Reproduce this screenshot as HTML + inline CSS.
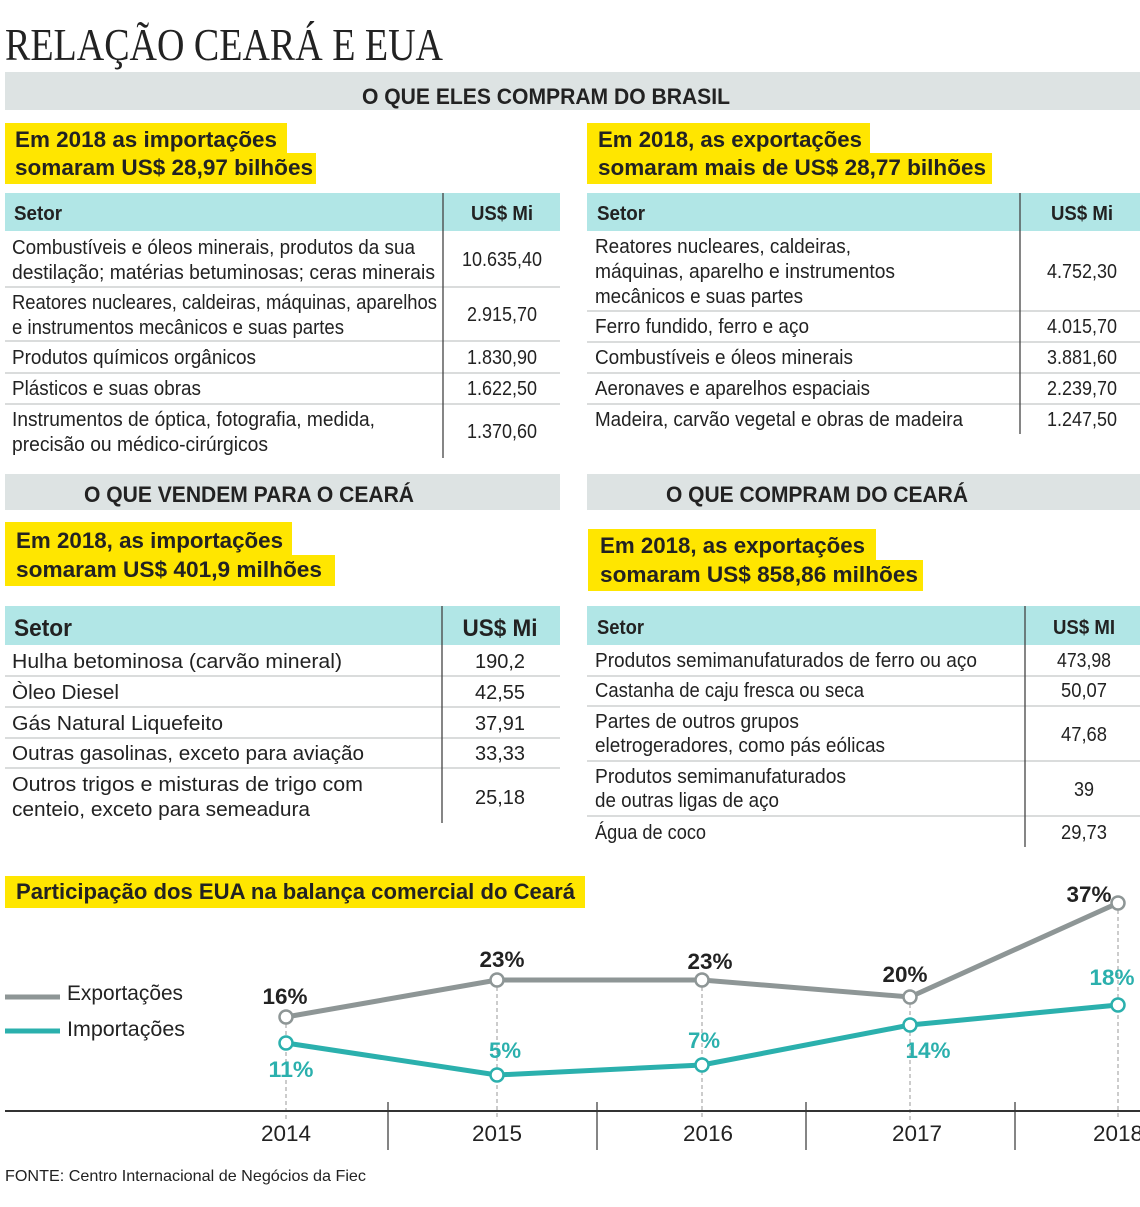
<!DOCTYPE html>
<html><head><meta charset="utf-8"><style>
html,body{margin:0;padding:0;background:#fff}
svg{display:block}
text{font-family:"Liberation Sans",sans-serif;fill:#222}
.b{font-weight:bold}
</style></head><body>
<svg width="1140" height="1207" viewBox="0 0 1140 1207" xmlns="http://www.w3.org/2000/svg" lengthAdjust="spacingAndGlyphs">
<!-- title -->
<text x="5" y="60" font-family="Liberation Serif" style="font-family:'Liberation Serif',serif" font-size="46" textLength="438" lengthAdjust="spacingAndGlyphs" fill="#111">RELAÇÃO CEARÁ E EUA</text>
<!-- top gray bar -->
<rect x="5" y="72" width="1135" height="38" fill="#dde3e3"/>
<text x="546" y="104" text-anchor="middle" class="b" font-size="22" textLength="368" lengthAdjust="spacingAndGlyphs">O QUE ELES COMPRAM DO BRASIL</text>
<!-- yellow 1 -->
<g fill="#ffe600">
<rect x="5" y="123" width="282" height="31"/><rect x="5" y="153" width="311" height="31"/>
<rect x="587" y="123" width="283" height="31"/><rect x="587" y="153" width="405" height="31"/>
<rect x="5" y="522" width="287" height="34"/><rect x="5" y="555" width="330" height="31"/>
<rect x="588" y="529" width="288" height="32"/><rect x="588" y="560" width="335" height="31"/>
<rect x="5" y="876" width="580" height="32"/>
</g>
<g class="b" font-size="22">
<text x="15" y="147" class="b" textLength="262" lengthAdjust="spacingAndGlyphs">Em 2018 as importações</text>
<text x="15" y="175" class="b" textLength="298" lengthAdjust="spacingAndGlyphs">somaram US$ 28,97 bilhões</text>
<text x="598" y="147" class="b" textLength="264" lengthAdjust="spacingAndGlyphs">Em 2018, as exportações</text>
<text x="598" y="175" class="b" textLength="388" lengthAdjust="spacingAndGlyphs">somaram mais de US$ 28,77 bilhões</text>
<text x="16" y="548" class="b" textLength="267" lengthAdjust="spacingAndGlyphs">Em 2018, as importações</text>
<text x="16" y="577" class="b" textLength="306" lengthAdjust="spacingAndGlyphs">somaram US$ 401,9 milhões</text>
<text x="600" y="553" class="b" textLength="265" lengthAdjust="spacingAndGlyphs">Em 2018, as exportações</text>
<text x="600" y="582" class="b" textLength="318" lengthAdjust="spacingAndGlyphs">somaram US$ 858,86 milhões</text>
<text x="16" y="899" class="b" textLength="559" lengthAdjust="spacingAndGlyphs">Participação dos EUA na balança comercial do Ceará</text>
</g>
<!-- table headers -->
<g fill="#b1e6e6">
<rect x="5" y="193" width="555" height="38"/><rect x="587" y="193" width="553" height="38"/>
<rect x="5" y="606" width="555" height="39"/><rect x="587" y="606" width="553" height="39"/>
</g>
<!-- row separators -->
<g stroke="#c4c8c8" stroke-width="1.2">
<line x1="5" x2="560" y1="287" y2="287"/><line x1="5" x2="560" y1="341" y2="341"/><line x1="5" x2="560" y1="373" y2="373"/><line x1="5" x2="560" y1="404" y2="404"/>
<line x1="587" x2="1140" y1="311" y2="311"/><line x1="587" x2="1140" y1="342" y2="342"/><line x1="587" x2="1140" y1="373" y2="373"/><line x1="587" x2="1140" y1="404" y2="404"/>
<line x1="5" x2="560" y1="676" y2="676"/><line x1="5" x2="560" y1="707" y2="707"/><line x1="5" x2="560" y1="738" y2="738"/><line x1="5" x2="560" y1="768" y2="768"/>
<line x1="587" x2="1140" y1="676" y2="676"/><line x1="587" x2="1140" y1="706" y2="706"/><line x1="587" x2="1140" y1="761" y2="761"/><line x1="587" x2="1140" y1="816" y2="816"/>
</g>
<g stroke="#444" stroke-width="1.3">
<line x1="443" x2="443" y1="193" y2="458"/><line x1="1020" x2="1020" y1="193" y2="434"/>
<line x1="442" x2="442" y1="606" y2="823"/><line x1="1025" x2="1025" y1="606" y2="847"/>
</g>
<!-- section 2 gray bars -->
<rect x="5" y="474" width="555" height="36" fill="#dde3e3"/>
<rect x="587" y="474" width="553" height="36" fill="#dde3e3"/>
<text x="249" y="502" text-anchor="middle" class="b" font-size="22" textLength="330" lengthAdjust="spacingAndGlyphs">O QUE VENDEM PARA O CEARÁ</text>
<text x="817" y="502" text-anchor="middle" class="b" font-size="22" textLength="302" lengthAdjust="spacingAndGlyphs">O QUE COMPRAM DO CEARÁ</text>
<!-- headers text -->
<text x="14" y="220" class="b" font-size="20" textLength="48" lengthAdjust="spacingAndGlyphs">Setor</text>
<text x="502" y="220" text-anchor="middle" class="b" font-size="20" textLength="62" lengthAdjust="spacingAndGlyphs">US$ Mi</text>
<text x="597" y="220" class="b" font-size="20" textLength="48" lengthAdjust="spacingAndGlyphs">Setor</text>
<text x="1082" y="220" text-anchor="middle" class="b" font-size="20" textLength="62" lengthAdjust="spacingAndGlyphs">US$ Mi</text>
<text x="14" y="636" class="b" font-size="24" textLength="58" lengthAdjust="spacingAndGlyphs">Setor</text>
<text x="500" y="636" text-anchor="middle" class="b" font-size="24" textLength="75" lengthAdjust="spacingAndGlyphs">US$ Mi</text>
<text x="597" y="634" class="b" font-size="20" textLength="47" lengthAdjust="spacingAndGlyphs">Setor</text>
<text x="1084" y="634" text-anchor="middle" class="b" font-size="20" textLength="62" lengthAdjust="spacingAndGlyphs">US$ MI</text>
<!-- body text -->
<g font-size="20">
<text x="12" y="254" textLength="403" lengthAdjust="spacingAndGlyphs">Combustíveis e óleos minerais, produtos da sua</text>
<text x="12" y="279" textLength="423" lengthAdjust="spacingAndGlyphs">destilação; matérias betuminosas; ceras minerais</text>
<text x="502" y="266" text-anchor="middle" textLength="80" lengthAdjust="spacingAndGlyphs">10.635,40</text>
<text x="12" y="309" textLength="425" lengthAdjust="spacingAndGlyphs">Reatores nucleares, caldeiras, máquinas, aparelhos</text>
<text x="12" y="334" textLength="332" lengthAdjust="spacingAndGlyphs">e instrumentos mecânicos e suas partes</text>
<text x="502" y="321" text-anchor="middle" textLength="70" lengthAdjust="spacingAndGlyphs">2.915,70</text>
<text x="12" y="364" textLength="244" lengthAdjust="spacingAndGlyphs">Produtos químicos orgânicos</text>
<text x="502" y="364" text-anchor="middle" textLength="70" lengthAdjust="spacingAndGlyphs">1.830,90</text>
<text x="12" y="395" textLength="189" lengthAdjust="spacingAndGlyphs">Plásticos e suas obras</text>
<text x="502" y="395" text-anchor="middle" textLength="70" lengthAdjust="spacingAndGlyphs">1.622,50</text>
<text x="12" y="426" textLength="363" lengthAdjust="spacingAndGlyphs">Instrumentos de óptica, fotografia, medida,</text>
<text x="12" y="451" textLength="256" lengthAdjust="spacingAndGlyphs">precisão ou médico-cirúrgicos</text>
<text x="502" y="438" text-anchor="middle" textLength="70" lengthAdjust="spacingAndGlyphs">1.370,60</text>

<text x="595" y="253" textLength="256" lengthAdjust="spacingAndGlyphs">Reatores nucleares, caldeiras,</text>
<text x="595" y="278" textLength="300" lengthAdjust="spacingAndGlyphs">máquinas, aparelho e instrumentos</text>
<text x="595" y="303" textLength="208" lengthAdjust="spacingAndGlyphs">mecânicos e suas partes</text>
<text x="1082" y="278" text-anchor="middle" textLength="70" lengthAdjust="spacingAndGlyphs">4.752,30</text>
<text x="595" y="333" textLength="214" lengthAdjust="spacingAndGlyphs">Ferro fundido, ferro e aço</text>
<text x="1082" y="333" text-anchor="middle" textLength="70" lengthAdjust="spacingAndGlyphs">4.015,70</text>
<text x="595" y="364" textLength="258" lengthAdjust="spacingAndGlyphs">Combustíveis e óleos minerais</text>
<text x="1082" y="364" text-anchor="middle" textLength="70" lengthAdjust="spacingAndGlyphs">3.881,60</text>
<text x="595" y="395" textLength="275" lengthAdjust="spacingAndGlyphs">Aeronaves e aparelhos espaciais</text>
<text x="1082" y="395" text-anchor="middle" textLength="70" lengthAdjust="spacingAndGlyphs">2.239,70</text>
<text x="595" y="426" textLength="368" lengthAdjust="spacingAndGlyphs">Madeira, carvão vegetal e obras de madeira</text>
<text x="1082" y="426" text-anchor="middle" textLength="70" lengthAdjust="spacingAndGlyphs">1.247,50</text>

<text x="12" y="668" textLength="330" lengthAdjust="spacingAndGlyphs">Hulha betominosa (carvão mineral)</text>
<text x="500" y="668" text-anchor="middle" textLength="50" lengthAdjust="spacingAndGlyphs">190,2</text>
<text x="12" y="699" textLength="107" lengthAdjust="spacingAndGlyphs">Òleo Diesel</text>
<text x="500" y="699" text-anchor="middle" textLength="50" lengthAdjust="spacingAndGlyphs">42,55</text>
<text x="12" y="730" textLength="211" lengthAdjust="spacingAndGlyphs">Gás Natural Liquefeito</text>
<text x="500" y="730" text-anchor="middle" textLength="50" lengthAdjust="spacingAndGlyphs">37,91</text>
<text x="12" y="760" textLength="352" lengthAdjust="spacingAndGlyphs">Outras gasolinas, exceto para aviação</text>
<text x="500" y="760" text-anchor="middle" textLength="50" lengthAdjust="spacingAndGlyphs">33,33</text>
<text x="12" y="791" textLength="351" lengthAdjust="spacingAndGlyphs">Outros trigos e misturas de trigo com</text>
<text x="12" y="816" textLength="298" lengthAdjust="spacingAndGlyphs">centeio, exceto para semeadura</text>
<text x="500" y="804" text-anchor="middle" textLength="50" lengthAdjust="spacingAndGlyphs">25,18</text>

<text x="595" y="667" textLength="382" lengthAdjust="spacingAndGlyphs">Produtos semimanufaturados de ferro ou aço</text>
<text x="1084" y="667" text-anchor="middle" textLength="54" lengthAdjust="spacingAndGlyphs">473,98</text>
<text x="595" y="697" textLength="269" lengthAdjust="spacingAndGlyphs">Castanha de caju fresca ou seca</text>
<text x="1084" y="697" text-anchor="middle" textLength="46" lengthAdjust="spacingAndGlyphs">50,07</text>
<text x="595" y="728" textLength="204" lengthAdjust="spacingAndGlyphs">Partes de outros grupos</text>
<text x="595" y="752" textLength="290" lengthAdjust="spacingAndGlyphs">eletrogeradores, como pás eólicas</text>
<text x="1084" y="741" text-anchor="middle" textLength="46" lengthAdjust="spacingAndGlyphs">47,68</text>
<text x="595" y="783" textLength="251" lengthAdjust="spacingAndGlyphs">Produtos semimanufaturados</text>
<text x="595" y="807" textLength="184" lengthAdjust="spacingAndGlyphs">de outras ligas de aço</text>
<text x="1084" y="796" text-anchor="middle" textLength="20" lengthAdjust="spacingAndGlyphs">39</text>
<text x="595" y="839" textLength="111" lengthAdjust="spacingAndGlyphs">Água de coco</text>
<text x="1084" y="839" text-anchor="middle" textLength="46" lengthAdjust="spacingAndGlyphs">29,73</text>
</g>
<!-- chart -->
<g stroke="#999" stroke-width="1" stroke-dasharray="4,3">
<line x1="286" x2="286" y1="1017" y2="1120"/><line x1="497" x2="497" y1="980" y2="1120"/>
<line x1="702" x2="702" y1="980" y2="1120"/><line x1="910" x2="910" y1="997" y2="1120"/>
<line x1="1118" x2="1118" y1="903" y2="1120"/>
</g>
<line x1="5" x2="1140" y1="1111" y2="1111" stroke="#333" stroke-width="2"/>
<g stroke="#333" stroke-width="1.2">
<line x1="388" x2="388" y1="1102" y2="1150"/><line x1="597" x2="597" y1="1102" y2="1150"/>
<line x1="806" x2="806" y1="1102" y2="1150"/><line x1="1015" x2="1015" y1="1102" y2="1150"/>
</g>
<polyline points="286,1017 497,980 702,980 910,997 1118,903" fill="none" stroke="#8e9696" stroke-width="5"/>
<polyline points="286,1043 497,1075 702,1065 910,1025 1118,1005" fill="none" stroke="#2bb0ad" stroke-width="5"/>
<g fill="#fff" stroke="#8e9696" stroke-width="2.5">
<circle cx="286" cy="1017" r="6.5"/><circle cx="497" cy="980" r="6.5"/><circle cx="702" cy="980" r="6.5"/><circle cx="910" cy="997" r="6.5"/><circle cx="1118" cy="903" r="6.5"/>
</g>
<g fill="#fff" stroke="#2bb0ad" stroke-width="2.5">
<circle cx="286" cy="1043" r="6.5"/><circle cx="497" cy="1075" r="6.5"/><circle cx="702" cy="1065" r="6.5"/><circle cx="910" cy="1025" r="6.5"/><circle cx="1118" cy="1005" r="6.5"/>
</g>
<g class="b" font-size="22" text-anchor="middle" fill="#333">
<text x="285" y="1004" class="b" textLength="45" lengthAdjust="spacingAndGlyphs" fill="#333">16%</text>
<text x="502" y="967" class="b" textLength="45" lengthAdjust="spacingAndGlyphs" fill="#333">23%</text>
<text x="710" y="969" class="b" textLength="45" lengthAdjust="spacingAndGlyphs" fill="#333">23%</text>
<text x="905" y="982" class="b" textLength="45" lengthAdjust="spacingAndGlyphs" fill="#333">20%</text>
<text x="1089" y="902" class="b" textLength="45" lengthAdjust="spacingAndGlyphs" fill="#333">37%</text>
</g>
<g class="b" font-size="22" text-anchor="middle" style="fill:#2bb0ad">
<text x="291" y="1077" class="b" textLength="45" lengthAdjust="spacingAndGlyphs" style="fill:#2bb0ad">11%</text>
<text x="505" y="1058" class="b" textLength="32" lengthAdjust="spacingAndGlyphs" style="fill:#2bb0ad">5%</text>
<text x="704" y="1048" class="b" textLength="32" lengthAdjust="spacingAndGlyphs" style="fill:#2bb0ad">7%</text>
<text x="928" y="1058" class="b" textLength="45" lengthAdjust="spacingAndGlyphs" style="fill:#2bb0ad">14%</text>
<text x="1112" y="985" class="b" textLength="45" lengthAdjust="spacingAndGlyphs" style="fill:#2bb0ad">18%</text>
</g>
<g font-size="22" text-anchor="middle">
<text x="286" y="1141" textLength="50" lengthAdjust="spacingAndGlyphs">2014</text>
<text x="497" y="1141" textLength="50" lengthAdjust="spacingAndGlyphs">2015</text>
<text x="708" y="1141" textLength="50" lengthAdjust="spacingAndGlyphs">2016</text>
<text x="917" y="1141" textLength="50" lengthAdjust="spacingAndGlyphs">2017</text>
<text x="1118" y="1141" textLength="50" lengthAdjust="spacingAndGlyphs">2018</text>
</g>
<line x1="5" x2="60" y1="997" y2="997" stroke="#8e9696" stroke-width="5"/>
<line x1="5" x2="60" y1="1031" y2="1031" stroke="#2bb0ad" stroke-width="5"/>
<text x="67" y="1000" font-size="21" textLength="116" lengthAdjust="spacingAndGlyphs">Exportações</text>
<text x="67" y="1036" font-size="21" textLength="118" lengthAdjust="spacingAndGlyphs">Importações</text>
<text x="5" y="1181" font-size="16" textLength="361" lengthAdjust="spacingAndGlyphs">FONTE: Centro Internacional de Negócios da Fiec</text>
</svg>
</body></html>
